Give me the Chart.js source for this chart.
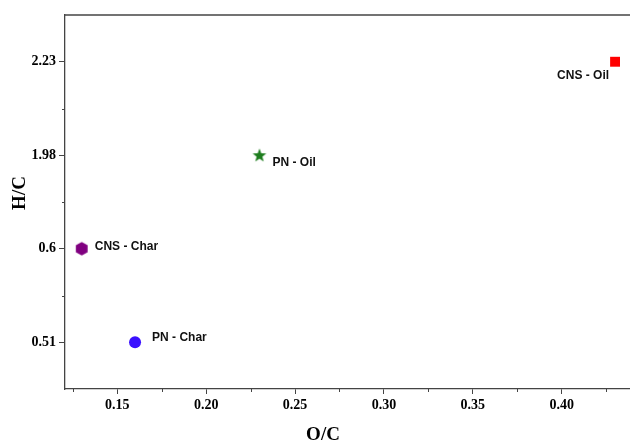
<!DOCTYPE html>
<html>
<head>
<meta charset="utf-8">
<script src="https://cdn.jsdelivr.net/npm/chart.js@4"></script>
<style>
  html, body { margin: 0; padding: 0; background: #fff; overflow: hidden; }
  #grafico { display: block; }
</style>
</head>
<body>
<canvas id="grafico" width="630" height="442"></canvas>
<script>
//Datos
const muestras = ['CNS - Oil', 'PN - Oil', 'CNS - Char', 'PN - Char'];
const valoresOC = [0.43, 0.23, 0.13, 0.16];
const valoresHC = ['2.23', '1.98', '0.6', '0.51'];
const etiquetasY = ['2.23', '1.98', '0.6', '0.51'];
const ticksX = [0.15, 0.20, 0.25, 0.30, 0.35, 0.40];
const ticksXMenores = [0.125, 0.175, 0.225, 0.275, 0.325, 0.375, 0.425];
const tituloX = 'O/C';
const tituloY = 'H/C';

const colores = ['#ff0000', '#1e7d1e', '#800080', '#3a10ff'];
//desplazamiento de la etiqueta de cada punto [dx, dy, alineacion]
const posEtiquetas = [[-6, 14, 'right'], [13, 7, 'left'], [13, -2, 'left'], [17, -5, 'left']];

//Marcadores personalizados
function crearEstrella(color) {
    const c = document.createElement('canvas');
    c.width = 16; c.height = 16;
    const ctx = c.getContext('2d');
    ctx.fillStyle = color;
    ctx.beginPath();
    for (let i = 0; i < 10; i++) {
        const r = i % 2 === 0 ? 7.2 : 3;
        const a = -Math.PI / 2 + i * Math.PI / 5;
        ctx.lineTo(8 + r * Math.cos(a), 8.5 + r * Math.sin(a));
    }
    ctx.closePath();
    ctx.fill();
    return c;
}

function crearHexagono(color) {
    const c = document.createElement('canvas');
    c.width = 16; c.height = 16;
    const ctx = c.getContext('2d');
    ctx.fillStyle = color;
    ctx.beginPath();
    for (let i = 0; i < 6; i++) {
        const a = -Math.PI / 2 + i * Math.PI / 3;
        ctx.lineTo(8 + 6.8 * Math.cos(a), 8 + 6.8 * Math.sin(a));
    }
    ctx.closePath();
    ctx.fill();
    return c;
}

const estilos = ['rect', crearEstrella(colores[1]), crearHexagono(colores[2]), 'circle'];
const radios = [7, 8, 8, 6];

const puntos = muestras.map((m, i) => ({ x: valoresOC[i], y: valoresHC[i] }));

//Plugin: marco superior, ticks menores, titulos y etiquetas de puntos
const pluginExtras = {
    id: 'extras',
    afterDraw(chart) {
        const { ctx, chartArea } = chart;
        const sx = chart.scales.x;
        const sy = chart.scales.y;
        ctx.save();
        ctx.strokeStyle = '#444';
        ctx.lineWidth = 1.3;
        ctx.beginPath();
        ctx.moveTo(chartArea.left, chartArea.top);
        ctx.lineTo(chartArea.right, chartArea.top);
        ctx.stroke();

        ctx.lineWidth = 1;
        ticksXMenores.forEach(v => {
            const px = Math.round(sx.getPixelForValue(v)) + 0.5;
            ctx.beginPath();
            ctx.moveTo(px, chartArea.bottom);
            ctx.lineTo(px, chartArea.bottom + 3);
            ctx.stroke();
        });
        for (let i = 0; i < etiquetasY.length - 1; i++) {
            const py = Math.round((sy.getPixelForValue(i) + sy.getPixelForValue(i + 1)) / 2) + 0.5;
            ctx.beginPath();
            ctx.moveTo(chartArea.left - 3, py);
            ctx.lineTo(chartArea.left, py);
            ctx.stroke();
        }

        //titulos de ejes (el marco original es mas ancho que la imagen)
        ctx.fillStyle = '#000';
        ctx.font = 'bold 19px "Liberation Serif", "Times New Roman", serif';
        ctx.textAlign = 'center';
        ctx.textBaseline = 'middle';
        ctx.fillText(tituloX, 323, 435);
        ctx.save();
        ctx.translate(20, 193);
        ctx.rotate(-Math.PI / 2);
        ctx.fillText(tituloY, 0, 0);
        ctx.restore();

        ctx.fillStyle = '#111';
        ctx.font = 'bold 12px "Liberation Sans", Arial, sans-serif';
        chart.getDatasetMeta(0).data.forEach((p, i) => {
            const [dx, dy, al] = posEtiquetas[i];
            ctx.textAlign = al;
            ctx.fillText(muestras[i], p.x + dx, p.y + dy);
        });
        ctx.restore();
    }
};

const fuenteEjes = { family: '"Liberation Serif", "Times New Roman", serif', weight: 'bold', size: 14 };

const config = {
    type: 'scatter',
    data: {
        datasets: [{
            data: puntos,
            backgroundColor: colores,
            borderColor: colores,
            borderWidth: 0,
            pointStyle: estilos,
            pointRadius: radios,
            pointHoverRadius: radios,
            clip: false
        }]
    },
    options: {
        responsive: false,
        animation: false,
        layout: { autoPadding: false, padding: { top: 15, right: 0, left: 0, bottom: 0 } },
        plugins: { legend: { display: false }, tooltip: { enabled: false } },
        scales: {
            x: {
                type: 'linear',
                min: 0.1206,
                max: 0.4384,
                afterBuildTicks: axis => { axis.ticks = ticksX.map(v => ({ value: v })); },
                afterFit: axis => {
                    axis.height = 53;
                    axis.paddingLeft = 0;
                    axis.paddingRight = 0;
                },
                ticks: {
                    color: '#000',
                    font: fuenteEjes,
                    padding: 3,
                    maxRotation: 0,
                    callback: v => v.toFixed(2)
                },
                grid: { drawOnChartArea: false, drawTicks: true, tickLength: 5, color: '#444' },
                border: { display: true, color: '#444', width: 1.3 },
                title: { display: false }
            },
            y: {
                type: 'category',
                labels: etiquetasY,
                offset: true,
                afterFit: axis => {
                    axis.width = 65;
                    axis.paddingTop = 0;
                    axis.paddingBottom = 0;
                },
                ticks: { color: '#000', font: fuenteEjes, padding: 3 },
                grid: { offset: false, drawOnChartArea: false, drawTicks: true, tickLength: 6, color: '#444' },
                border: { display: true, color: '#444', width: 1.3 },
                title: { display: false }
            }
        }
    },
    plugins: [pluginExtras]
};

new Chart(document.querySelector('#grafico'), config);
</script>
</body>
</html>
